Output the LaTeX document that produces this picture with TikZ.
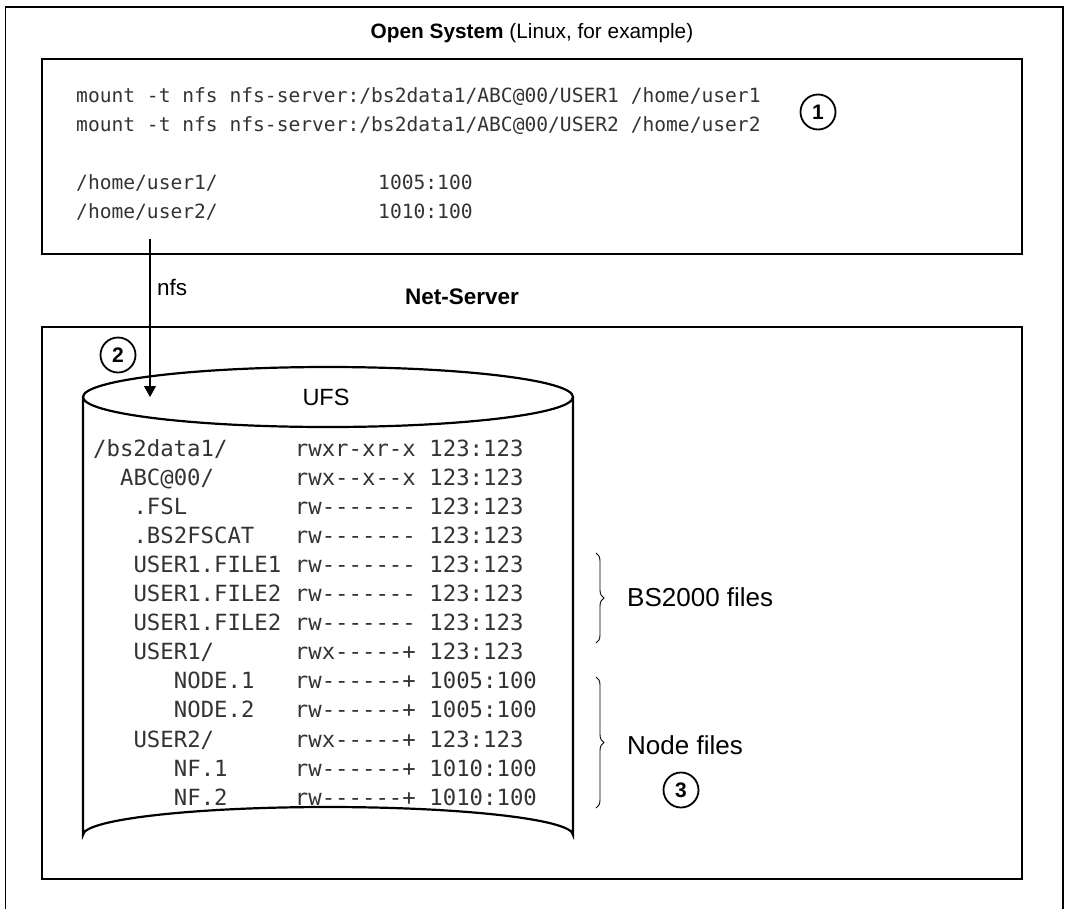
\documentclass[tikz,border=0pt]{standalone}
\usepackage{fontspec}
\setmainfont{Liberation Sans}
\newfontfamily\monof{DejaVu Sans Mono}
\usetikzlibrary{arrows.meta,decorations.pathreplacing}
\newcommand\hs{\kern0pt}
\newcommand\fsrow[5]{%
  \node[mono] (n#1) at ({93+#2*13.45}, {456+#1*29.1}) {#3};
  \node[mono] (p#1) at ({93+15*13.45}, {456+#1*29.1}) {#4};
  \node[mono] (o#1) at ({93+25*13.45}, {456+#1*29.1}) {#5};}
\begin{document}
\begin{tikzpicture}[x=1pt,y=-1pt,
  frame/.style={line width=1.6pt},
  mono/.style={font=\monof\fontsize{22.3}{26}\selectfont, inner sep=0pt, anchor=base west, text=black!80},
  monos/.style={mono, font=\monof\fontsize{19.6}{25}\selectfont},
  lbl/.style={font=\fontsize{22.5}{26}\selectfont, inner sep=0pt},
  biglbl/.style={font=\fontsize{26}{30}\selectfont, inner sep=0pt, anchor=west},
  num/.style={circle, draw, line width=1.8pt, minimum size=35pt, inner sep=0pt, font=\bfseries\fontsize{21}{24}\selectfont},
  cyl/.style={line width=2.2pt},
  brc/.style={decorate, decoration={brace, amplitude=8pt}, line width=0.9pt}
]
\useasboundingbox (0,0) rectangle (1067,908);
% outer frame
\draw[frame] (5.5,910) -- (5.5,7) -- (1063,7) -- (1063,910);
% open system box
\node[lbl,font=\fontsize{20.8}{24}\selectfont] (ostitle) at (532,33) {\textbf{Open System} (Linux, for example)};
\draw[frame] (42,59) rectangle (1022,254);
\node[monos] (m1) at (76,102) {mount -t nfs nfs-server:/bs2data1/ABC@00/USER1 /home/user1};
\node[monos] (m2) at (76,131) {mount -t nfs nfs-server:/bs2data1/ABC@00/USER2 /home/user2};
\node[monos] (h1) at (76,189) {/home/user1/};
\node[monos] (h2) at (76,218) {/home/user2/};
\node[monos] (u1) at (378,189) {1005:100};
\node[monos] (u2) at (378,218) {1010:100};
\node[num] (c1) at (818,112) {1};
% net server
\node[lbl,font=\bfseries\fontsize{22.5}{26}\selectfont] (nstitle) at (462,297) {Net-Server};
\draw[frame] (42,327) rectangle (1022,879);
\node[num] (c2) at (118,355) {2};
% cylinder
\draw[cyl] (83,397) -- (83,835) arc[start angle=180,end angle=360,x radius=245,y radius=28] -- (573,397);
\draw[cyl,fill=white] (328,397) ellipse[x radius=245,y radius=30];
\node[lbl,font=\fontsize{23.5}{26}\selectfont] (ufs) at (326,397) {UFS};
% nfs arrow
\coordinate (nfsstart) at (150,239);
\coordinate (nfsend) at (150,397);
\draw[line width=1.2pt,-{Triangle[width=12pt,length=11pt]}] (nfsstart) -- (nfsend);
\node[lbl,anchor=west] (nfs) at (157,287) {nfs};
% listing
\fsrow{0}{0}{/bs2data1/}{rwxr-xr-x}{123:123}
\fsrow{1}{2}{ABC@00/}{rwx-\hs-x-\hs-x}{123:123}
\fsrow{2}{3}{.FSL}{rw-\hs-\hs-\hs-\hs-\hs-\hs-}{123:123}
\fsrow{3}{3}{.BS2FSCAT}{rw-\hs-\hs-\hs-\hs-\hs-\hs-}{123:123}
\fsrow{4}{3}{USER1.FILE1}{rw-\hs-\hs-\hs-\hs-\hs-\hs-}{123:123}
\fsrow{5}{3}{USER1.FILE2}{rw-\hs-\hs-\hs-\hs-\hs-\hs-}{123:123}
\fsrow{6}{3}{USER1.FILE2}{rw-\hs-\hs-\hs-\hs-\hs-\hs-}{123:123}
\fsrow{7}{3}{USER1/}{rwx-\hs-\hs-\hs-\hs-+}{123:123}
\fsrow{8}{6}{NODE.1}{rw-\hs-\hs-\hs-\hs-\hs-+}{1005:100}
\fsrow{9}{6}{NODE.2}{rw-\hs-\hs-\hs-\hs-\hs-+}{1005:100}
\fsrow{10}{3}{USER2/}{rwx-\hs-\hs-\hs-\hs-+}{123:123}
\fsrow{11}{6}{NF.1}{rw-\hs-\hs-\hs-\hs-\hs-+}{1010:100}
\fsrow{12}{6}{NF.2}{rw-\hs-\hs-\hs-\hs-\hs-+}{1010:100}
% braces
\coordinate (b1t) at (596,553);
\coordinate (b1b) at (596,643);
\draw[brc] (b1t) -- (b1b);
\node[biglbl] (bs2) at (627,597) {BS2000 files};
\coordinate (b2t) at (596,677);
\coordinate (b2b) at (596,808);
\draw[brc] (b2t) -- (b2b);
\node[biglbl] (nodef) at (627,745) {Node files};
\node[num] (c3) at (681,790) {3};
\end{tikzpicture}
\end{document}
